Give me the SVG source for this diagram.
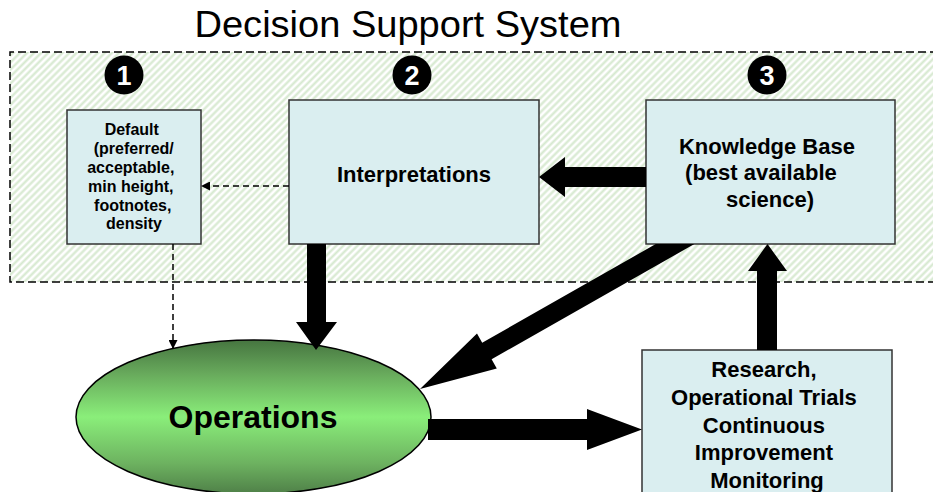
<svg xmlns="http://www.w3.org/2000/svg" width="933" height="492" viewBox="0 0 933 492">
  <defs>
    <pattern id="hatch" patternUnits="userSpaceOnUse" width="5" height="5" patternTransform="rotate(45)">
      <rect width="5" height="5" fill="#ffffff"/>
      <line x1="1.5" y1="0" x2="1.5" y2="5" stroke="#d6e9cf" stroke-width="2.2"/>
    </pattern>
    <linearGradient id="green" x1="0" y1="0" x2="0" y2="1">
      <stop offset="0" stop-color="#467540"/>
      <stop offset="0.22" stop-color="#68aa5c"/>
      <stop offset="0.5" stop-color="#8aee7a"/>
      <stop offset="0.8" stop-color="#6db260"/>
      <stop offset="1" stop-color="#4f8048"/>
    </linearGradient>
    <marker id="dashHead" markerWidth="9" markerHeight="9" refX="8" refY="4.5" orient="auto" markerUnits="userSpaceOnUse">
      <path d="M0,0 L9,4.5 L0,9 Z" fill="#000"/>
    </marker>
    <style>
      .box { fill: #daeef0; stroke: #333; stroke-width: 1.5; }
      .lbl { font-family: "Liberation Sans", Arial, sans-serif; font-weight: bold; fill: #000; text-anchor: middle; }
      .num { font-family: "Liberation Sans", Arial, sans-serif; font-weight: bold; fill: #fff; text-anchor: middle; font-size: 27px; }
      .dash { fill: none; stroke: #000; stroke-width: 1.5; stroke-dasharray: 6 4; }
      .thick { fill: #000; stroke: none; }
    </style>
  </defs>

  <rect width="933" height="492" fill="#ffffff"/>

  <text x="408" y="37" font-family="Liberation Sans, Arial, sans-serif" font-size="37" fill="#000" text-anchor="middle" textLength="427" lengthAdjust="spacingAndGlyphs">Decision Support System</text>

  <g id="dss-region">
    <rect x="10" y="52" width="940" height="230" fill="url(#hatch)"/>
    <path d="M950,52 H10 V282 H950" fill="none" stroke="#000" stroke-width="1.5" stroke-dasharray="8 4"/>
  </g>

  <g id="badge1"><circle cx="124" cy="75" r="19.5" fill="#000"/><text class="num" x="124" y="84.5">1</text></g>
  <g id="badge2"><circle cx="412" cy="75" r="19.5" fill="#000"/><text class="num" x="412" y="84.5">2</text></g>
  <g id="badge3"><circle cx="767" cy="75" r="19.5" fill="#000"/><text class="num" x="767" y="84.5">3</text></g>

  <g id="default">
    <rect class="box" x="67" y="110" width="134" height="134"/>
    <text class="lbl" font-size="16">
      <tspan x="134" y="135">Default</tspan>
      <tspan x="136" y="154">(preferred/</tspan>
      <tspan x="133" y="173">acceptable,</tspan>
      <tspan x="133" y="192">min height,</tspan>
      <tspan x="135" y="211">footnotes,</tspan>
      <tspan x="134" y="229">density</tspan>
    </text>
  </g>

  <g id="interpretations">
    <rect class="box" x="289" y="100" width="250" height="144"/>
    <text class="lbl" font-size="22" x="414" y="182">Interpretations</text>
  </g>

  <g id="knowledge-base">
    <rect class="box" x="646" y="100" width="249" height="144"/>
    <text class="lbl" font-size="22">
      <tspan x="770" y="154">Knowledge Base</tspan>
      <tspan x="764" y="180">(best available</tspan>
      <tspan x="770" y="207">science)</tspan>
    </text>
  </g>

  <g id="research">
    <rect class="box" x="642" y="350" width="250" height="150"/>
    <text class="lbl" font-size="22">
      <tspan x="767" y="377">Research,</tspan>
      <tspan x="767" y="405">Operational Trials</tspan>
      <tspan x="767" y="433">Continuous</tspan>
      <tspan x="767" y="460">Improvement</tspan>
      <tspan x="767" y="488">Monitoring</tspan>
    </text>
  </g>

  <g id="operations">
    <ellipse cx="253.5" cy="417" rx="177.5" ry="77" fill="url(#green)" stroke="#000" stroke-width="1.5"/>
    <text class="lbl" font-size="32" x="253" y="428">Operations</text>
  </g>

  <g id="connectors">
    <line class="dash" x1="289" y1="186" x2="202" y2="186" marker-end="url(#dashHead)"/>
    <line class="dash" x1="173" y1="244" x2="173" y2="348" marker-end="url(#dashHead)"/>
    <polygon class="thick" points="646,167 565,167 565,157 539,177 565,197 565,187 646,187"/>
    <polygon class="thick" points="307,244 326,244 326,322 337,322 316,350 296,322 307,322"/>
    <polygon class="thick" points="694.4,244 491.6,359.3 496.8,368.4 420,389 477,333.6 482.2,342.7 655.8,244"/>
    <polygon class="thick" points="428,419 587,419 587,409 642,429.5 587,450 587,440 428,440"/>
    <polygon class="thick" points="757,350 757,271 748,271 767.5,244 787,271 777,271 777,350"/>
  </g>
</svg>
